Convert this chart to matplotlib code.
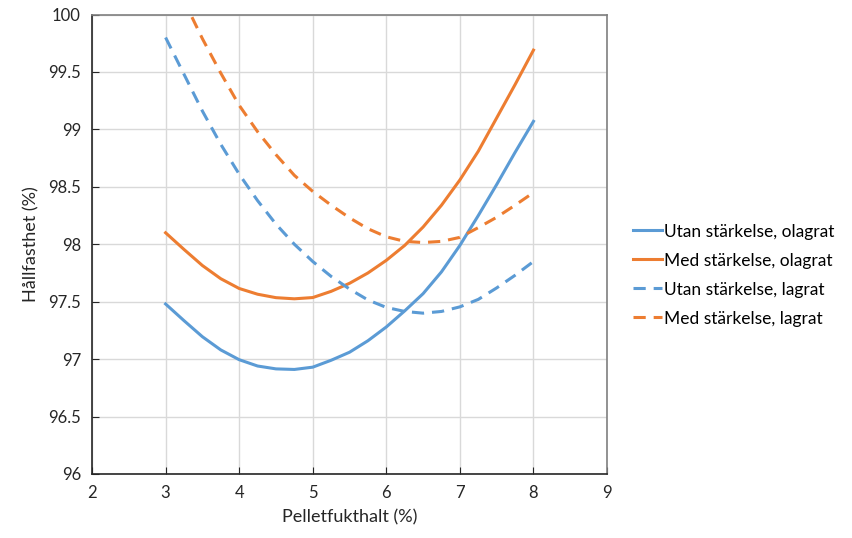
import matplotlib.pyplot as plt

# fukthalt (%) och hållfasthet (%)
x = [3, 3.25, 3.5, 3.75, 4, 4.25, 4.5, 4.75, 5, 5.25, 5.5,
     5.75, 6, 6.25, 6.5, 6.75, 7, 7.25, 7.5, 7.75, 8]
utan_olagrat = [97.48, 97.335, 97.195, 97.08, 96.995, 96.94, 96.915, 96.91, 96.93, 96.99, 97.06,
                97.16, 97.28, 97.42, 97.57, 97.76, 97.99, 98.25, 98.52, 98.80, 99.07]
med_olagrat = [98.10, 97.955, 97.815, 97.70, 97.615, 97.565, 97.535, 97.525, 97.536, 97.59, 97.66,
               97.75, 97.86, 97.99, 98.15, 98.34, 98.56, 98.81, 99.10, 99.39, 99.69]
utan_lagrat = [99.80, 99.48, 99.16, 98.87, 98.61, 98.38, 98.175, 98.0, 97.85, 97.72, 97.61,
               97.515, 97.45, 97.415, 97.40, 97.415, 97.455, 97.52, 97.62, 97.73, 97.85]
med_lagrat = [100.45, 100.12, 99.79, 99.49, 99.21, 98.98, 98.78, 98.60, 98.46, 98.34, 98.23,
              98.135, 98.065, 98.025, 98.015, 98.025, 98.06, 98.145, 98.235, 98.34, 98.45]

labels = ["Utan stärkelse, olagrat", "Med stärkelse, olagrat",
          "Utan stärkelse, lagrat", "Med stärkelse, lagrat"]

plt.rcParams['font.family'] = ['Lato', 'DejaVu Sans']

blue = '#5b9bd5'
orange = '#ed7d31'

fig = plt.figure(figsize=(8.52, 5.38), dpi=100)
ax = fig.add_axes([0.108, 0.119, 0.6045, 0.854])

ax.plot(x, utan_olagrat, color=blue, lw=2.2, label=labels[0])
ax.plot(x, med_olagrat, color=orange, lw=2.2, label=labels[1])
ax.plot(x, utan_lagrat, color=blue, lw=2.2, ls=(0, (4, 2.6)), label=labels[2])
ax.plot(x, med_lagrat, color=orange, lw=2.2, ls=(0, (4, 2.6)), label=labels[3])

ax.set_xlim(2, 9)
ax.set_ylim(96, 100)
ax.set_xticks(range(2, 10))
ax.set_yticks([96, 96.5, 97, 97.5, 98, 98.5, 99, 99.5, 100])
ax.set_yticklabels(['96', '96.5', '97', '97.5', '98', '98.5', '99', '99.5', '100'])
ax.grid(True, color='#d9d9d9', lw=1)
ax.set_axisbelow(True)
ax.tick_params(direction='in', length=5, labelsize=12, colors='#262626', pad=8)

for s in ['top', 'right']:
    ax.spines[s].set_color('#7f7f7f')
for s in ['left', 'bottom']:
    ax.spines[s].set_color('#262626')
for s in ax.spines.values():
    s.set_linewidth(1.2)

ax.set_xlabel("Pelletfukthalt (%)", fontsize=13, color='#262626', labelpad=6)
ax.set_ylabel("Hållfasthet (%)", fontsize=13, color='#262626', labelpad=6)

ax.legend(loc='center left', bbox_to_anchor=(1.02, 0.433), frameon=False,
          fontsize=12.5, handlelength=1.7, handletextpad=0.1, labelspacing=0.75)

fig.savefig("out.png", dpi=100)
